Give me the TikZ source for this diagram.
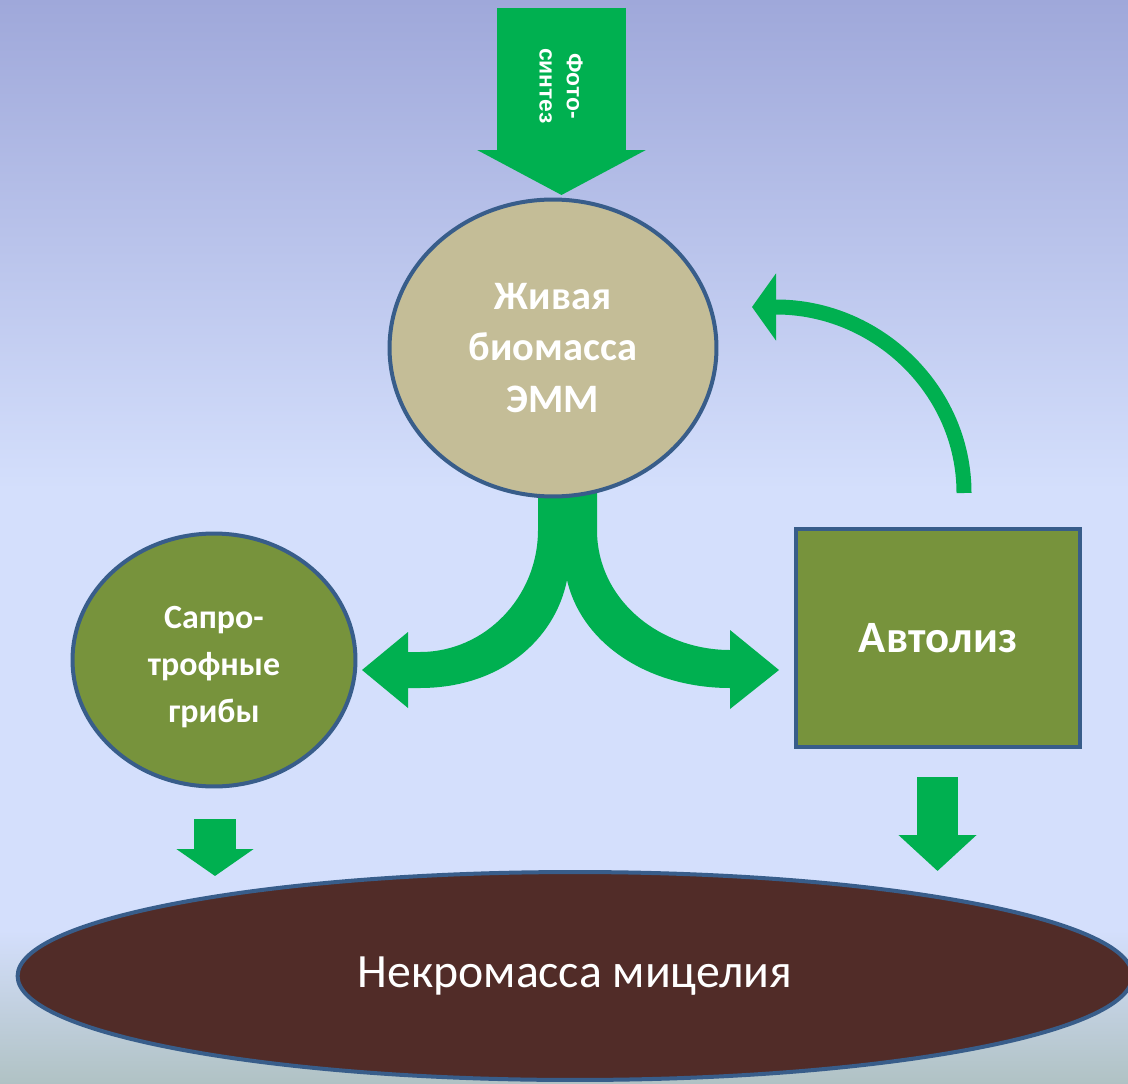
\documentclass[tikz,border=0pt]{standalone}
\usepackage{fontspec}
\setmainfont{Carlito}
\newfontfamily\arialfont{Liberation Sans}
\usetikzlibrary{arrows.meta, calc, shapes.geometric, backgrounds}
\definecolor{leafgreen}{RGB}{0, 176, 80}
\definecolor{edgeblue}{RGB}{56, 93, 138}
\definecolor{biobeige}{RGB}{196, 189, 151}
\definecolor{mossgreen}{RGB}{119, 147, 60}
\definecolor{necrobrown}{RGB}{81, 44, 40}
\definecolor{skytop}{RGB}{159, 168, 218}
\definecolor{skymid}{RGB}{212, 223, 252}
\definecolor{skylow}{RGB}{176, 194, 196}
\newcommand{\lowered}[1]{\raisebox{-0.14cm}[\height][\depth]{#1}}

\begin{document}
\begin{tikzpicture}[
    x=0.02cm, y=-0.02cm,
    bioblob/.style={ellipse, draw=edgeblue, line width=0.08cm, fill=biobeige, text=white, align=center, inner sep=0pt},
    mossblob/.style={ellipse, draw=edgeblue, line width=0.08cm, fill=mossgreen, text=white, align=center, inner sep=0pt},
    mossbox/.style={rectangle, draw=edgeblue, line width=0.08cm, fill=mossgreen, text=white, align=center},
    necroblob/.style={ellipse, draw=edgeblue, line width=0.08cm, fill=necrobrown, text=white, align=center, inner sep=0pt},
    fatarrow/.style={draw=leafgreen, line cap=butt}
]

\useasboundingbox (0,0) rectangle (1128,1084);

\node (bio) [bioblob, minimum width=6.54cm, minimum height=5.94cm,
    font=\bfseries\fontsize{23}{29.5}\selectfont] at (553,348)
    {Живая\\биомасса\\ЭММ};

\node (sapro) [mossblob, minimum width=5.66cm, minimum height=5.06cm,
    font=\bfseries\fontsize{19.3}{26.5}\selectfont] at (214,660)
    {\lowered{Сапро-}\\\lowered{трофные}\\\lowered{грибы}};

\node (avt) [mossbox, minimum width=5.7cm, minimum height=4.38cm,
    font=\bfseries\fontsize{25.5}{30}\selectfont] at (938,638)
    {\raisebox{-0.06cm}{Автолиз}};

\node (necro) [necroblob, minimum width=22.3cm, minimum height=4.16cm,
    font=\fontsize{27.2}{32}\selectfont] at (575,976)
    {\raisebox{-0.12cm}{Некромасса мицелия}};

% free ends of the fat arrows
\coordinate (sun) at (561.5,8);
\coordinate (sunend) at (561.5,195);
\coordinate (avtup) at (964,493);
\coordinate (bioback) at (752,307);
\coordinate (saprodown) at (215,819);
\coordinate (saproend) at (215,876);
\coordinate (avtdown) at (937.5,777);
\coordinate (avtend) at (937.5,871);

\begin{scope}[on background layer]
\fill[top color=skytop, bottom color=skymid] (0,0) rectangle (1128,490);
\fill[skymid] (0,489) rectangle (1128,931);
\fill[top color=skymid, bottom color=skylow] (0,930) rectangle (1128,1084);
% fork below the living biomass
\fill[leafgreen] (538,480) -- (538,530)
    .. controls (538,597) and (485,652) .. (420,652) -- (408,652) -- (408,632)
    -- (362,670) -- (408,708) -- (408,688) -- (420,688)
    .. controls (500,688) and (555,640) .. (567,580)
    .. controls (582,645) and (650,688) .. (730,688) -- (730,709)
    -- (779,670) -- (730,630) -- (730,650)
    .. controls (660,650) and (597,600) .. (597,530) -- (597,480) -- cycle;
\end{scope}

\draw[fatarrow, line width=2.58cm, -{Triangle[length=0.9cm, width=3.34cm]}] (sun) -- (sunend);
\node (photo) [rotate=-90, text=white, align=center,
    font=\arialfont\bfseries\fontsize{13}{15.5}\selectfont] at (561,86) {Фото-\\синтез};

\draw[fatarrow, line width=0.3cm, -{Triangle[length=0.48cm, width=1.32cm]}] (avtup)
    .. controls (964,390) and (877,307) .. (776,307) -- (bioback);
\draw[fatarrow, line width=0.84cm, -{Triangle[length=0.54cm, width=1.52cm]}] (saprodown) -- (saproend);
\draw[fatarrow, line width=0.82cm, -{Triangle[length=0.72cm, width=1.52cm]}] (avtdown) -- (avtend);

\end{tikzpicture}
\end{document}
